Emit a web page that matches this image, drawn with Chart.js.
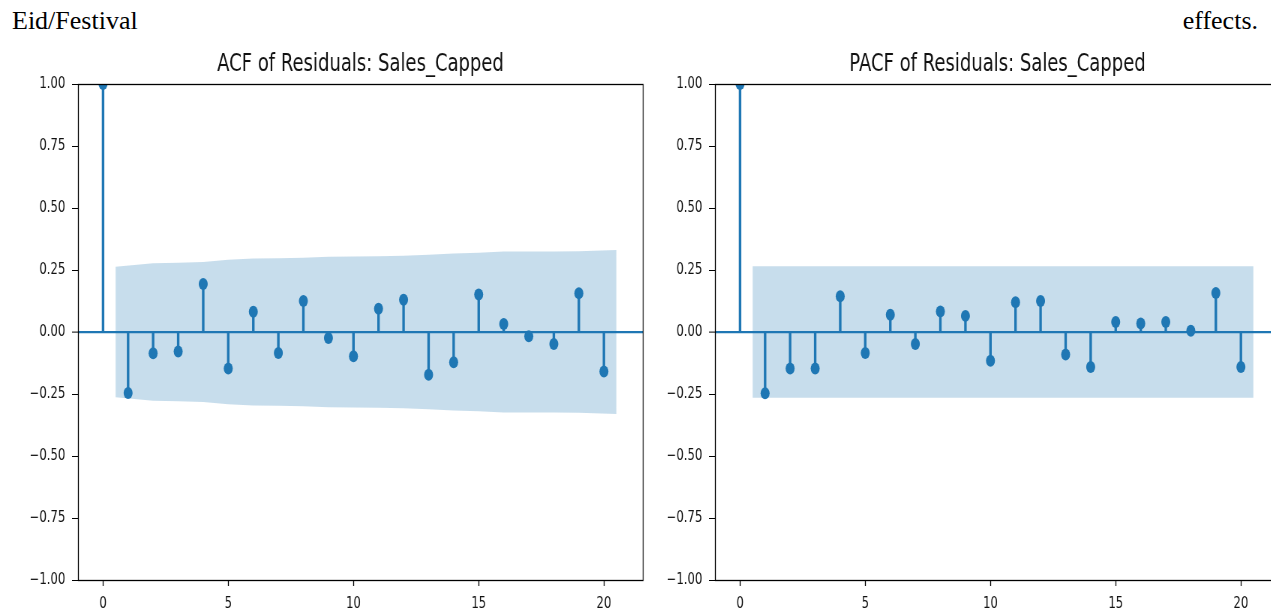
<!DOCTYPE html>
<html>
<head>
<meta charset="utf-8">
<script src="https://cdn.jsdelivr.net/npm/chart.js@4.4.1/dist/chart.umd.min.js"></script>
<style>
  html, body { margin: 0; padding: 0; background: #fff; overflow: hidden; }
  body { width: 1271px; height: 613px; position: relative; }
  .note { position: absolute; top: 8px; font-family: "Liberation Serif", "Times New Roman", serif; font-size: 26px; line-height: 26px; color: #000; }
  /* the original figure was squeezed sideways, so squeeze the canvases too */
  canvas { position: absolute; top: 40px; transform: scaleX(0.75); transform-origin: 0 0; }
</style>
</head>
<body>
<div class="note" style="left:12px;">Eid/Festival</div>
<div class="note" style="right:13px;">effects.</div>
<canvas id="acfChart" width="880" height="573" style="left:0px;"></canvas>
<canvas id="pacfChart" width="880" height="573" style="left:637px;"></canvas>
<script>
// lags 0..20
const lags = [0, 1, 2, 3, 4, 5, 6, 7, 8, 9, 10, 11, 12, 13, 14, 15, 16, 17, 18, 19, 20];

const acfValues = [1.0, -0.246, -0.086, -0.079, 0.194, -0.147, 0.082, -0.085, 0.125, -0.024,
  -0.098, 0.094, 0.130, -0.172, -0.122, 0.151, 0.032, -0.017, -0.048, 0.156, -0.159];

const pacfValues = [1.0, -0.247, -0.147, -0.147, 0.144, -0.085, 0.070, -0.048, 0.083, 0.065,
  -0.116, 0.120, 0.125, -0.091, -0.141, 0.040, 0.034, 0.040, 0.005, 0.157, -0.141];

// confidence band: x positions (first/last widened by half a lag) and upper edge
const bandLags = [0.5, 2, 3, 4, 5, 6, 7, 8, 9, 10, 11, 12, 13, 14, 15, 16, 17, 18, 19, 20.5];
const acfBand = [0.263, 0.277, 0.279, 0.282, 0.291, 0.296, 0.297, 0.299, 0.303, 0.304,
  0.305, 0.307, 0.311, 0.317, 0.320, 0.325, 0.325, 0.325, 0.326, 0.331];
const pacfBand = [0.265, 0.265, 0.265, 0.265, 0.265, 0.265, 0.265, 0.265, 0.265, 0.265,
  0.265, 0.265, 0.265, 0.265, 0.265, 0.265, 0.265, 0.265, 0.265, 0.265];

const xTicks = [0, 5, 10, 15, 20];
const yTicks = [-1, -0.75, -0.5, -0.25, 0, 0.25, 0.5, 0.75, 1];

const blue = '#1f77b4';
const bandFill = 'rgba(31, 119, 180, 0.25)';
const font = 'DejaVu Sans';

// black frame round the plot area
const framePlugin = {
  id: 'frame',
  afterDatasetsDraw(chart) {
    const a = chart.chartArea;
    const ctx = chart.ctx;
    ctx.save();
    ctx.strokeStyle = '#000';
    ctx.lineWidth = 1.3;
    const l = Math.round(a.left) + 0.5, t = Math.round(a.top) + 0.5;
    ctx.strokeRect(l, t, Math.round(a.right) - Math.round(a.left), Math.round(a.bottom) - Math.round(a.top));
    ctx.restore();
  }
};

function fmt(v) {
  const s = Math.abs(v).toFixed(2);
  return v < 0 ? '\u2212' + s : s;
}

function makeChart(id, title, values, band) {
  const ctx = document.getElementById(id).getContext('2d');
  return new Chart(ctx, {
    type: 'bar',
    data: {
      datasets: [
        {
          type: 'line',
          data: bandLags.map((x, i) => ({ x: x, y: band[i] })),
          borderWidth: 0,
          pointRadius: 0,
          backgroundColor: bandFill,
          fill: '+1',
          order: 3
        },
        {
          type: 'line',
          data: bandLags.map((x, i) => ({ x: x, y: -band[i] })),
          borderWidth: 0,
          pointRadius: 0,
          fill: false,
          order: 3
        },
        {
          type: 'bar',
          data: lags.map((x, i) => ({ x: x, y: values[i] })),
          backgroundColor: blue,
          barThickness: 2.7,
          grouped: false,
          order: 2
        },
        {
          type: 'scatter',
          data: lags.map((x, i) => ({ x: x, y: values[i] })),
          pointStyle: 'circle',
          pointRadius: 6,
          borderWidth: 0,
          backgroundColor: blue,
          clip: 0,
          order: 1
        }
      ]
    },
    options: {
      responsive: false,
      animation: false,
      devicePixelRatio: 1,
      layout: { padding: { left: 0, right: 22.7, top: 0, bottom: 0 } },
      scales: {
        x: {
          type: 'linear',
          offset: false,
          min: -1,
          max: 21.56,
          afterBuildTicks: (scale) => { scale.ticks = xTicks.map(v => ({ value: v })); },
          afterFit: (scale) => { scale.height = 33; },
          border: { display: false },
          grid: { offset: false, drawOnChartArea: false, tickLength: 6, tickColor: '#000', tickWidth: 1.3 },
          ticks: { color: '#111', padding: 9, font: { family: font, size: 15.5 }, maxRotation: 0 }
        },
        y: {
          min: -1,
          max: 1,
          afterBuildTicks: (scale) => { scale.ticks = yTicks.map(v => ({ value: v })); },
          afterFit: (scale) => { scale.width = 104; },
          border: { display: false },
          grid: {
            color: (c) => (c.tick && c.tick.value === 0 ? blue : 'rgba(0,0,0,0)'),
            lineWidth: (c) => (c.tick && c.tick.value === 0 ? 2.2 : 1),
            tickLength: 8,
            tickColor: '#000',
            tickWidth: 1
          },
          ticks: {
            color: '#111',
            padding: 9,
            font: { family: font, size: 15.5 },
            callback: (v) => fmt(v)
          }
        }
      },
      plugins: {
        legend: { display: false },
        tooltip: { enabled: false },
        title: {
          display: true,
          fullSize: false, // centre over the plot area, not the whole canvas
          text: title,
          color: '#111',
          font: { family: font, size: 24, weight: 'normal' },
          padding: { top: 10, bottom: 5.2 }
        }
      }
    },
    plugins: [framePlugin]
  });
}

makeChart('acfChart', 'ACF of Residuals: Sales_Capped', acfValues, acfBand);
makeChart('pacfChart', 'PACF of Residuals: Sales_Capped', pacfValues, pacfBand);
</script>
</body>
</html>
